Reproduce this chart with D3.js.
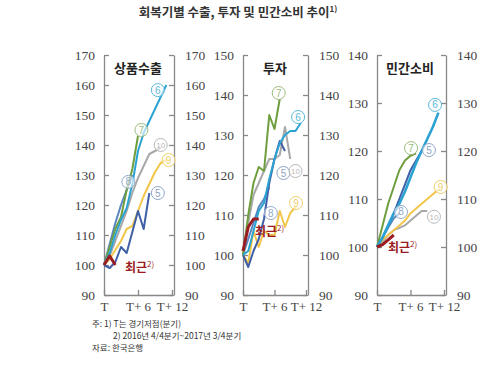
<!DOCTYPE html>
<html>
<head>
<meta charset="utf-8">
<script src="https://cdn.jsdelivr.net/npm/d3@7"></script>
<style>
  body { margin: 0; background: #fff; }
  .tick text { font-family: "Liberation Serif", serif; font-size: 13.5px; fill: #444; }
  .x-axis .tick text { font-size: 13px; }
  .axis path, .axis line { stroke: #888; stroke-width: 1.3; }
  .kr { font-family: "Noto Sans CJK KR", sans-serif; }
</style>
</head>
<body>
<svg id="chart"></svg>
<script>
// panel titles, y domains and x ticks
const panelTitles = ["상품수출", "투자", "민간소비"];
const yDomains = [[90, 170], [90, 150], [90, 140]];
const xTickValues = [0, 6, 12];
const xTickLabels = ["T", "T+ 6", "T+ 12"];
const seriesNames = ["5", "6", "7", "8", "9", "10", "최근"];

// 상품수출 (index T = 100, quarterly)
const export5 = [100, 99, 101, 106, 104, 111, 118, 112, 124];
const export6 = [100, 104, 110, 115, 119, 127, 138, 144, 148, 152, 156, 160];
const export7 = [100, 106, 112, 116, 125, 132, 143];
const export8 = [100, 107, 114, 120, 125, 130];
const export9 = [100, 102, 105, 108, 112, 113, 118, 123, 127, 131, 134, 135];
const export10 = [100, 103, 108, 113, 118, 124, 129, 133, 137, 138, 139];
const exportRecent = [100, 103, 100];

// 투자
const invest5 = [100, 97, 101, 104, 109, 118, 124, 128.5, 126];
const invest6 = [100, 101, 106, 111, 113, 119, 124, 128, 130, 131, 131, 133];
const invest7 = [100, 110, 118, 122, 121, 135, 131.5, 139];
const invest8 = [100, 104, 108, 112, 114, 117];
const invest9 = [100, 98, 106, 102, 106, 105, 105, 111, 107, 110.5, 112];
const invest10 = [100, 108, 115, 118, 121, 124, 124, 125, 132, 124];
const investRecent = [101, 107, 109, 109];

// 민간소비
const consume5 = [100, 102, 104.5, 107, 110, 113, 116, 118, 120];
const consume6 = [100, 102, 104.5, 107, 109, 111.5, 114.5, 117.5, 120, 122.5, 125, 128];
const consume7 = [100, 104.5, 109, 112.5, 116, 118, 119, 119.5];
const consume8 = [100, 102, 104, 106, 107];
const consume9 = [100, 101.5, 102.5, 103.5, 104.5, 105.5, 107, 108, 109, 110, 111, 112];
const consume10 = [100, 101, 102.5, 103.5, 104, 104.5, 105.5, 106.5, 107.5, 107.5];
const consumeRecent = [100, 100.5, 101.5, 102.5];

const panelSeries = [
    [export5, export6, export7, export8, export9, export10, exportRecent],
    [invest5, invest6, invest7, invest8, invest9, invest10, investRecent],
    [consume5, consume6, consume7, consume8, consume9, consume10, consumeRecent]
];

// circled label anchors [quarter, value] per series (5..10)
const labelPos = [
    [[9.5, 124], [9.5, 158.3], [6.6, 145], [4.3, 127.7], [11.4, 135], [10, 140]],
    [[7.7, 120.5], [10.5, 134.5], [6.8, 140.5], [5.3, 110.5], [10.1, 113], [10, 121]],
    [[9.3, 120.2], [10.4, 129.6], [6.1, 120.6], [4.3, 107.3], [11.4, 112.5], [10.2, 106.3]]
];

const colour = d3.scaleOrdinal()
    .domain(seriesNames)
    .range(["#3f5fa6", "#2aa3d3", "#6f9e3f", "#5a86c0", "#f2c64a", "#a8a8a8", "#9a1c22"]);
const labelColour = d3.scaleOrdinal()
    .domain(seriesNames)
    .range(["#8fa3c4", "#5bb8dc", "#9cba7c", "#93aacb", "#f0cf6c", "#b8b8b8", "#9a1c22"]);

const panels = [
    { left: 104, right: 172, title: 138 },
    { left: 243, right: 306, title: 275 },
    { left: 377, right: 444, title: 410 }
];
const plotTop = 55, plotBottom = 295;
const recentLabel = [[125, 272], [255, 236], [388, 252]];

const svg = d3.select("#chart").attr("width", 500).attr("height", 366);

// title
const title = svg.append("text")
    .attr("class", "kr")
    .attr("x", 238).attr("y", 17)
    .attr("text-anchor", "middle")
    .attr("font-size", 12.5).attr("font-weight", "bold").attr("fill", "#333");
title.append("tspan").text("회복기별 수출, 투자 및 민간소비 추이");
title.append("tspan").attr("font-size", 8).attr("dy", -5).text("1)");

panels.forEach((p, i) => {
    const x = d3.scaleLinear().domain([0, 12]).range([p.left, p.right]);
    const y = d3.scaleLinear().domain(yDomains[i]).range([plotBottom, plotTop]);
    const ticks = d3.range(yDomains[i][0], yDomains[i][1] + 1, 10);
    const g = svg.append("g");

    g.append("g").attr("class", "axis")
        .attr("transform", `translate(${p.left},0)`)
        .call(d3.axisLeft(y).tickValues(ticks).tickSize(-5).tickSizeOuter(0).tickPadding(9));
    g.append("g").attr("class", "axis")
        .attr("transform", `translate(${p.right + 2},0)`)
        .call(d3.axisRight(y).tickValues(ticks).tickSize(-5).tickSizeOuter(0).tickPadding(11));
    g.append("g").attr("class", "axis x-axis")
        .attr("transform", `translate(0,${plotBottom})`)
        .call(d3.axisBottom(x).tickValues(xTickValues).tickFormat((d, k) => xTickLabels[k])
            .tickSize(-5).tickSizeOuter(0).tickPadding(7));
    g.selectAll(".axis .domain").attr("stroke", "#888");

    g.append("text")
        .attr("class", "kr")
        .attr("x", p.title).attr("y", 73)
        .attr("text-anchor", "middle")
        .attr("font-size", 13).attr("font-weight", "bold").attr("fill", "#222")
        .text(panelTitles[i]);

    const line = d3.line()
        .x((d, k) => x(k))
        .y(d => y(d));

    // draw older cycles first, recent last
    const order = [5, 4, 3, 0, 2, 1, 6];
    order.forEach(s => {
        g.append("path")
            .datum(panelSeries[i][s])
            .attr("d", line)
            .attr("fill", "none")
            .attr("stroke", colour(seriesNames[s]))
            .attr("stroke-width", s === 6 ? 3 : (i === 2 && s === 1 ? 2.6 : 2))
            .attr("stroke-linejoin", "round");
    });

    labelPos[i].forEach((pos, s) => {
        const c = labelColour(seriesNames[s]);
        const lg = g.append("g")
            .attr("transform", `translate(${x(pos[0])},${y(pos[1])})`);
        lg.append("circle").attr("r", 6.5)
            .attr("fill", "#fff").attr("fill-opacity", 0.6)
            .attr("stroke", c).attr("stroke-width", 1);
        lg.append("text")
            .attr("text-anchor", "middle").attr("dy", "0.35em")
            .attr("font-family", "Liberation Sans, sans-serif")
            .attr("font-size", seriesNames[s].length > 1 ? 8 : 10)
            .attr("fill", c)
            .text(seriesNames[s]);
    });

    const rl = g.append("text")
        .attr("class", "kr")
        .attr("x", recentLabel[i][0]).attr("y", recentLabel[i][1])
        .attr("font-size", 12).attr("font-weight", "bold")
        .attr("fill", colour("최근"));
    rl.append("tspan").text("최근");
    rl.append("tspan").attr("font-size", 8).attr("font-weight", "normal").attr("dy", -5).text("2)");
});

// notes
const notes = [
    { x: 92, y: 327, t: "주: 1) T는 경기저점(분기)" },
    { x: 113, y: 339, t: "2) 2016년 4/4분기~2017년 3/4분기" },
    { x: 92, y: 351, t: "자료: 한국은행" }
];
svg.selectAll(".note")
    .data(notes)
    .enter().append("text")
    .attr("class", "note kr")
    .attr("x", d => d.x).attr("y", d => d.y)
    .attr("font-size", 8.5).attr("fill", "#333")
    .text(d => d.t);
</script>
</body>
</html>
